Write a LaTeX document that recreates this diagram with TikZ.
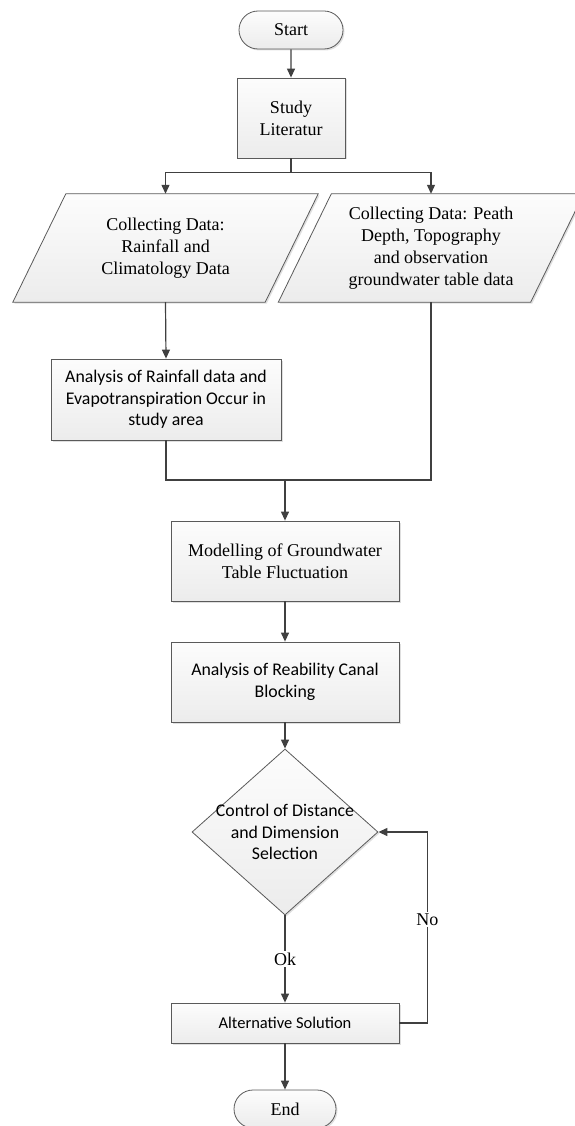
\documentclass[tikz,border=0pt]{standalone}
\usepackage{fontspec}
\setmainfont{Liberation Serif}
\newfontfamily\carlfont{Carlito}
\usetikzlibrary{shapes.misc,shapes.geometric,arrows.meta,shadows,backgrounds}
\definecolor{edgec}{HTML}{5A5A5A}
\definecolor{linec}{HTML}{404040}
\begin{document}
\begin{tikzpicture}[x=1pt,y=-1pt,
  shade/.style={draw=edgec, line width=0.8pt, top color=gray!2, bottom color=gray!15,
    drop shadow={shadow xshift=1.5pt, shadow yshift=-1.5pt, opacity=0.25, fill=gray}},
  serif/.style={font=\fontsize{18}{22}\selectfont},
  sans/.style={font=\carlfont\fontsize{17.8}{21.5}\selectfont},
  sanssmall/.style={font=\carlfont\fontsize{16.5}{21}\selectfont},
  box/.style={shade, rectangle, align=center, inner sep=2pt, minimum width=228, minimum height=80},
  term/.style={shade, rounded rectangle, align=center, inner sep=2pt, serif},
  para/.style={rectangle, align=center, inner sep=0pt, minimum width=305, minimum height=108, serif},
  dec/.style={shade, diamond, inner sep=0pt, minimum width=186, minimum height=166},
  ln/.style={draw=linec, line width=1.2pt},
  arr/.style={ln, -{Triangle[width=8pt,length=9pt]}},
  lab/.style={fill=white, inner sep=1.5pt, serif}
]
\useasboundingbox (0,0) rectangle (574,1126);

\node[term, minimum width=108, minimum height=38] (start) at (291,30) {Start};
\node[box, serif, minimum width=108, minimum height=80] (study) at (291,118) {Study\\Literatur};

\node[para] (p1) at (165.5,248) {Collecting Data:\\Rainfall and\\Climatology Data};
\node[para] (p2) at (431,248) {Collecting Data: Peath\\Depth, Topography\\and observation\\groundwater table data};
\begin{pgfonlayer}{background}
  \path[shade] ([xshift=53]p1.north west) -- (p1.north east) -- ([xshift=-53]p1.south east) -- (p1.south west) -- cycle;
  \path[shade] ([xshift=53]p2.north west) -- (p2.north east) -- ([xshift=-53]p2.south east) -- (p2.south west) -- cycle;
\end{pgfonlayer}

\node[box, sans, minimum width=230, minimum height=81] (ana) at (166,399.5) {Analysis of Rainfall data and\\Evapotranspiration Occur in\\study area};
\coordinate (m) at (285,480);
\node[box, serif] (mod) at (285,561) {Modelling of Groundwater\\Table Fluctuation};
\node[box, sans] (rea) at (285,682) {Analysis of Reability Canal\\Blocking};
\node[dec] (dia) at (285,832) {};
\node[sans, align=center, inner sep=0pt] (diat) at (dia.center) {Control of Distance\\and Dimension\\Selection};
\node[box, sanssmall, minimum height=40] (alt) at (285,1023) {Alternative Solution};
\node[term, minimum width=106, minimum height=38] (end) at (285,1109) {End};

\draw[arr] (start) -- (study);
\draw[arr] (study.south) -- ++(0,14) -| (p1.north);
\draw[arr] (study.south) -- ++(0,14) -| (p2.north);
\draw[arr] (p1.south) -- (ana.north);
\draw[ln] (ana.south) |- (m);
\draw[ln] (p2.south) |- (m);
\draw[arr] (m) -- (mod.north);
\draw[arr] (mod) -- (rea);
\draw[arr] (rea) -- (dia);
\draw[arr] (dia.south) -- node[lab]{Ok} (alt.north);
\draw[arr] (alt.east) -- ++(28,0) |- node[lab, pos=0.27]{No} (dia.east);
\draw[arr] (alt) -- (end);
\end{tikzpicture}
\end{document}
